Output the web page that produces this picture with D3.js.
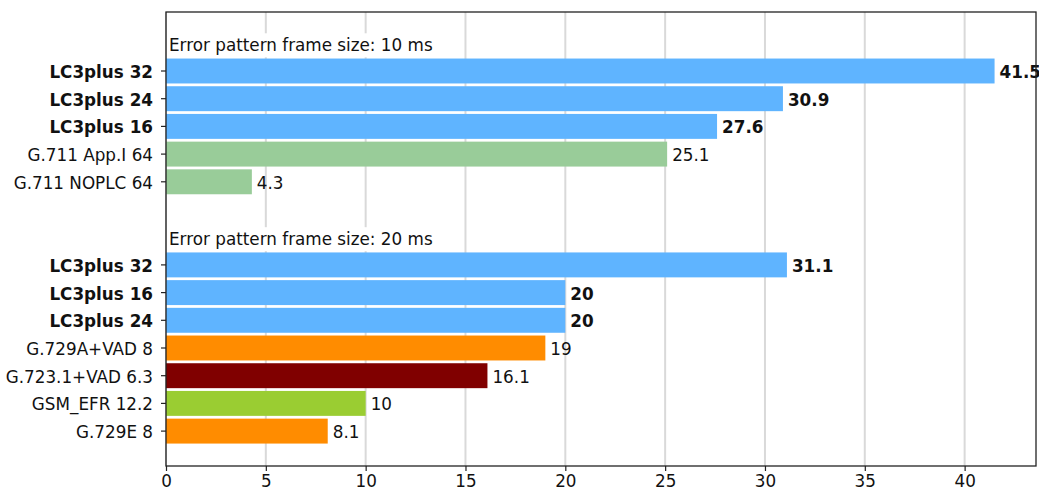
<!DOCTYPE html>
<html>
<head>
<meta charset="utf-8">
<script src="https://cdn.jsdelivr.net/npm/d3@7"></script>
<style>
  html, body { margin: 0; padding: 0; background: #fff; overflow: hidden; }
  svg { display: block; font-family: "DejaVu Sans", sans-serif; }
</style>
</head>
<body>
<svg id="chart" width="1039" height="488"></svg>
<script>
// Burst-error concealment scores, grouped by error pattern frame size
const groupTitles = ["Error pattern frame size: 10 ms", "Error pattern frame size: 20 ms"];

const group10Labels = ["LC3plus 32", "LC3plus 24", "LC3plus 16", "G.711 App.I 64", "G.711 NOPLC 64"];
const group10Values = [41.5, 30.9, 27.6, 25.1, 4.3];

const group20Labels = ["LC3plus 32", "LC3plus 16", "LC3plus 24", "G.729A+VAD 8", "G.723.1+VAD 6.3", "GSM_EFR 12.2", "G.729E 8"];
const group20Values = [31.1, 20, 20, 19, 16.1, 10, 8.1];

const xTicks = [0, 5, 10, 15, 20, 25, 30, 35, 40];

// codec family -> bar colour
const codecColors = [
  ["LC3plus", "#5fb4ff"],
  ["G.711", "#99cc99"],
  ["G.729", "#ff8c00"],
  ["G.723.1", "#800000"],
  ["GSM_EFR", "#9acd32"]
];

function colorFor(label) {
  const hit = codecColors.find(([k]) => label.startsWith(k));
  return hit ? hit[1] : "#888";
}
const isBold = label => label.startsWith("LC3plus");

const fontSize = 16.8;

// Row layout: header row, bars, blank row, header row, bars
const rows = [];
rows.push({ type: "title", text: groupTitles[0] });
group10Labels.forEach((l, i) => rows.push({ type: "bar", label: l, value: group10Values[i] }));
rows.push({ type: "blank" });
rows.push({ type: "title", text: groupTitles[1] });
group20Labels.forEach((l, i) => rows.push({ type: "bar", label: l, value: group20Values[i] }));
rows.forEach((r, i) => r.index = i);

const svg = d3.select("#chart");
const plotLeft = 166, plotRight = 1036, plotTop = 12, plotBottom = 466;

const maxVal = d3.max(group10Values.concat(group20Values));
const x = d3.scaleLinear().domain([0, maxVal * 1.05]).range([plotLeft, plotRight]);
const y = d3.scaleLinear().domain([-1.13, 15.26]).range([plotTop, plotBottom]);
const rowStep = y(1) - y(0);
const barH = rowStep * 0.9;

// vertical grid
svg.append("g").selectAll("line").data(xTicks).join("line")
  .attr("x1", d => x(d)).attr("x2", d => x(d))
  .attr("y1", plotTop).attr("y2", plotBottom)
  .attr("stroke", "#d9d9d9").attr("stroke-width", 2);

const barRows = rows.filter(r => r.type === "bar");
const titleRows = rows.filter(r => r.type === "title");

// group headings on a white box over the grid
const titles = svg.append("g");
titleRows.forEach(r => {
  const t = titles.append("text")
    .attr("x", plotLeft + 3).attr("y", y(r.index) + 2)
    .attr("dominant-baseline", "central")
    .attr("font-size", fontSize).attr("fill", "#111")
    .text(r.text);
  const bb = t.node().getBBox();
  titles.insert("rect", "text")
    .attr("x", plotLeft + 1).attr("y", bb.y - 2)
    .attr("width", bb.width + 6).attr("height", bb.height + 4)
    .attr("fill", "#fff");
});

// bars
svg.append("g").selectAll("rect").data(barRows).join("rect")
  .attr("x", x(0))
  .attr("y", d => y(d.index) - barH / 2)
  .attr("width", d => x(d.value) - x(0))
  .attr("height", barH)
  .attr("fill", d => colorFor(d.label));

// value labels
svg.append("g").selectAll("text").data(barRows).join("text")
  .attr("x", d => x(d.value) + 5)
  .attr("y", d => y(d.index) + 1)
  .attr("dominant-baseline", "central")
  .attr("font-size", fontSize)
  .attr("font-weight", d => isBold(d.label) ? "bold" : "normal")
  .attr("fill", "#111")
  .text(d => d3.format("~g")(d.value));

// y axis: ticks and labels for bar rows only
const yAxis = svg.append("g");
yAxis.selectAll("line").data(barRows).join("line")
  .attr("x1", plotLeft - 5).attr("x2", plotLeft)
  .attr("y1", d => y(d.index)).attr("y2", d => y(d.index))
  .attr("stroke", "#222").attr("stroke-width", 1.2);
yAxis.selectAll("text").data(barRows).join("text")
  .attr("x", plotLeft - 13)
  .attr("y", d => y(d.index) + 1)
  .attr("text-anchor", "end")
  .attr("dominant-baseline", "central")
  .attr("font-size", fontSize)
  .attr("font-weight", d => isBold(d.label) ? "bold" : "normal")
  .attr("fill", "#111")
  .text(d => d.label);

// x axis
const xAxis = d3.axisBottom(x).tickValues(xTicks).tickSize(5).tickPadding(4).tickFormat(d3.format("d"));
const gx = svg.append("g").attr("transform", `translate(0,${plotBottom})`).call(xAxis);
gx.select(".domain").remove();
gx.selectAll("line").attr("stroke", "#222").attr("stroke-width", 1.2);
gx.selectAll("text").attr("font-size", fontSize).attr("fill", "#111").attr("font-family", "DejaVu Sans, sans-serif");

// frame
svg.append("rect")
  .attr("x", plotLeft).attr("y", plotTop)
  .attr("width", plotRight - plotLeft).attr("height", plotBottom - plotTop)
  .attr("fill", "none").attr("stroke", "#222").attr("stroke-width", 1.3);
</script>
</body>
</html>
